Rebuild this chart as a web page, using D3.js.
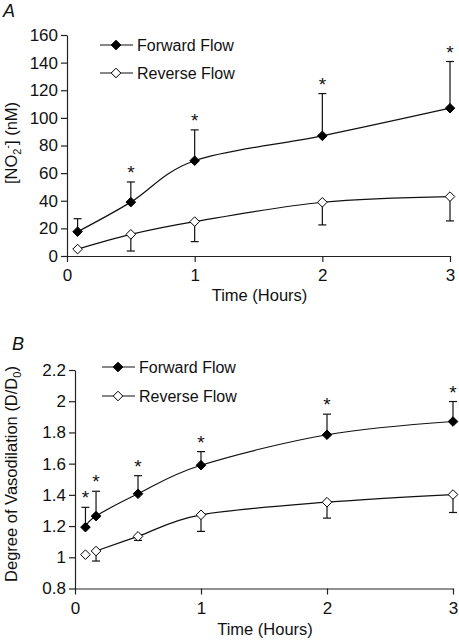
<!DOCTYPE html>
<html><head><meta charset="utf-8">
<script src="https://cdn.jsdelivr.net/npm/d3@7/dist/d3.min.js"></script>
<style>
body{margin:0;background:#fff}
svg{display:block}
text{font-family:"Liberation Sans",Arial,sans-serif;fill:#111}
</style></head><body>
<svg id="c" width="459" height="641"></svg>
<script>
// ---- Data ----
const timesA = [0.083, 0.5, 1, 2, 3];
const fwdA = [17.6, 39, 69, 87, 107];
const fwdA_err = [27, 53.6, 91.3, 117.6, 140.8]; // upper error bar ends
const revA = [5, 15.7, 24.9, 38.9, 43];
const revA_err = [5, 3.6, 10.4, 22.5, 25.4];     // lower error bar ends
const starsA = [false, true, true, true, true];
const yTicksA = [0, 20, 40, 60, 80, 100, 120, 140, 160];
const xTicks = [0, 1, 2, 3];

const timesB = [0.083, 0.167, 0.5, 1, 2, 3];
const fwdB = [1.193, 1.264, 1.407, 1.59, 1.785, 1.87];
const fwdB_err = [1.32, 1.423, 1.523, 1.677, 1.917, 1.998];
const revB = [1.017, 1.04, 1.134, 1.272, 1.353, 1.402];
const revB_err = [1.017, 0.976, 1.108, 1.166, 1.251, 1.287];
const starsB = [true, true, true, true, true, true];
const yTicksB = [0.8, 1, 1.2, 1.4, 1.6, 1.8, 2, 2.2];
const yTickLabelsB = ["0.8", "1", "1.2", "1.4", "1.6", "1.8", "2", "2.2"];
const legendLabels = ["Forward Flow", "Reverse Flow"];

const svg = d3.select("#c");
const FS = 16;
const TFS = 17;

function panel(cfg) {
  const x = d3.scaleLinear().domain([0, 3]).range(cfg.xr);
  const y = d3.scaleLinear().domain(cfg.yd).range(cfg.yr);
  const g = svg.append("g");

  // axes
  const ax = g.append("g").attr("transform", `translate(0,${cfg.yr[0]})`)
    .call(d3.axisBottom(x).tickValues(xTicks).tickFormat(d3.format("d")).tickSize(6).tickPadding(7).tickSizeOuter(0));
  const ay = g.append("g").attr("transform", `translate(${cfg.xr[0]},0)`)
    .call(d3.axisLeft(y).tickValues(cfg.yTicks).tickFormat((d, i) => cfg.yLabels[i]).tickSize(6).tickPadding(3).tickSizeOuter(0));
  [ax, ay].forEach(a => {
    a.selectAll("path,line").attr("stroke", "#222").attr("stroke-width", 1.2);
    a.selectAll("text").attr("font-size", TFS).attr("font-family", '"Liberation Sans",Arial,sans-serif').attr("fill", "#111");
  });

  const line = d3.line().x(d => x(d[0])).y(d => y(d[1])).curve(d3.curveCardinal.tension(0));

  // error bars
  function errs(ts, vals, ends) {
    ts.forEach((t, i) => {
      if (Math.abs(ends[i] - vals[i]) < 1e-9) return;
      const px = x(t);
      g.append("line").attr("x1", px).attr("x2", px).attr("y1", y(vals[i])).attr("y2", y(ends[i]))
        .attr("stroke", "#111").attr("stroke-width", 1.2);
      g.append("line").attr("x1", px - 4).attr("x2", px + 4).attr("y1", y(ends[i])).attr("y2", y(ends[i]))
        .attr("stroke", "#111").attr("stroke-width", 1.2);
    });
  }
  errs(cfg.t, cfg.fwd, cfg.fwdErr);
  errs(cfg.t, cfg.rev, cfg.revErr);

  const fwdPts = cfg.t.map((t, i) => [t, cfg.fwd[i]]);
  const revPts = cfg.t.map((t, i) => [t, cfg.rev[i]]).slice(cfg.revLineStart);
  g.append("path").attr("d", line(fwdPts)).attr("fill", "none").attr("stroke", "#111").attr("stroke-width", 1.2);
  g.append("path").attr("d", line(revPts)).attr("fill", "none").attr("stroke", "#111").attr("stroke-width", 1.2);

  const dia = (cx, cy, filled) => g.append("path")
    .attr("d", `M${cx},${cy - 4.8}L${cx + 4.8},${cy}L${cx},${cy + 4.8}L${cx - 4.8},${cy}Z`)
    .attr("fill", filled ? "#000" : "#fff").attr("stroke", "#000").attr("stroke-width", 1);

  cfg.t.forEach((t, i) => dia(x(t), y(cfg.fwd[i]), true));
  cfg.t.forEach((t, i) => dia(x(t), y(cfg.rev[i]), false));

  // stars
  cfg.t.forEach((t, i) => {
    if (!cfg.stars[i]) return;
    g.append("text").attr("x", x(t)).attr("y", y(cfg.fwdErr[i]) - 3)
      .attr("text-anchor", "middle").attr("font-size", 19).attr("fill", "#333").text("*");
  });

  // legend
  legendLabels.forEach((lab, i) => {
    const ly = cfg.legY[i];
    g.append("line").attr("x1", cfg.legX).attr("x2", cfg.legX + 33).attr("y1", ly).attr("y2", ly)
      .attr("stroke", "#111").attr("stroke-width", 1.2);
    dia(cfg.legX + 16, ly, i === 0);
    g.append("text").attr("x", cfg.legX + 37).attr("y", ly).attr("dy", "0.36em")
      .attr("font-size", FS).text(lab);
  });

  // x title
  g.append("text").attr("x", (cfg.xr[0] + cfg.xr[1]) / 2 + 1).attr("y", cfg.xTitleY)
    .attr("text-anchor", "middle").attr("font-size", 16.5).text("Time (Hours)");

  // panel letter
  g.append("text").attr("x", cfg.letterX).attr("y", cfg.letterY).attr("font-size", 18)
    .attr("font-style", "italic").text(cfg.letter);
  return {x, y, g};
}

const A = panel({
  xr: [67, 450], yr: [256, 35], yd: [0, 160], yTicks: yTicksA, yLabels: yTicksA.map(String),
  t: timesA, fwd: fwdA, fwdErr: fwdA_err, rev: revA, revErr: revA_err, stars: starsA, revLineStart: 0,
  legX: 100, legY: [45, 73], xTitleY: 301, letter: "A", letterX: 3, letterY: 17
});
const B = panel({
  xr: [75, 453], yr: [588.5, 370], yd: [0.8, 2.2], yTicks: yTicksB, yLabels: yTickLabelsB,
  t: timesB, fwd: fwdB, fwdErr: fwdB_err, rev: revB, revErr: revB_err, stars: starsB, revLineStart: 1,
  legX: 102, legY: [367, 396], xTitleY: 635, letter: "B", letterX: 12, letterY: 350
});

// y titles
const tA = svg.append("text").attr("transform", "translate(17,143) rotate(-90)")
  .attr("text-anchor", "middle").attr("font-size", 16.5);
tA.append("tspan").text("[NO");
tA.append("tspan").attr("font-size", 11).attr("dy", 4).text("2");
tA.append("tspan").attr("font-size", 11).attr("dy", -10).text("-");
tA.append("tspan").attr("dy", 6).text("] (nM)");

const tB = svg.append("text").attr("transform", "translate(17,474) rotate(-90)")
  .attr("text-anchor", "middle").attr("font-size", 16.5);
tB.append("tspan").text("Degree of Vasodilation (D/D");
tB.append("tspan").attr("font-size", 11).attr("dy", 4).text("0");
tB.append("tspan").attr("dy", -4).text(")");
</script>
</body></html>
